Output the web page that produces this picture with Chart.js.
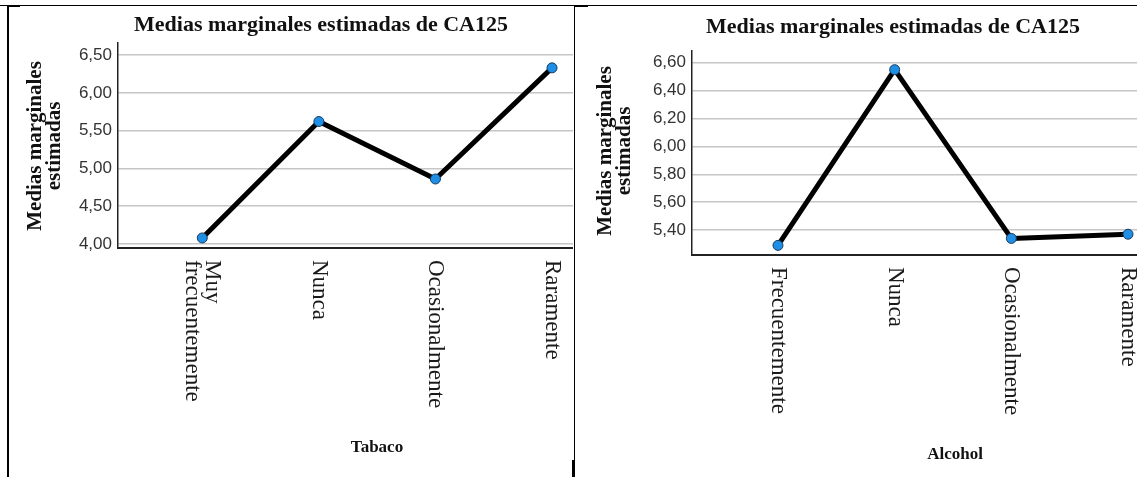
<!DOCTYPE html>
<html>
<head>
<meta charset="utf-8">
<script src="https://cdn.jsdelivr.net/npm/chart.js@4.4.1/dist/chart.umd.min.js"></script>
<style>
  html, body { margin: 0; padding: 0; background: #fff; }
  body { width: 1137px; height: 477px; position: relative; overflow: hidden; }
  .line { position: absolute; background: #000; }
  .box { position: absolute; }
</style>
</head>
<body>
<!-- table cell borders around the two charts -->
<div class="line" style="left:0;top:5px;width:1137px;height:1px;"></div>
<div class="line" style="left:7px;top:5px;width:13px;height:2px;"></div>
<div class="line" style="left:7px;top:5px;width:2px;height:472px;"></div>
<div class="line" style="left:574px;top:5px;width:14px;height:2px;"></div>
<div class="line" style="left:574px;top:5px;width:1px;height:472px;"></div>
<div class="line" style="left:572px;top:460px;width:3px;height:17px;"></div>

<div class="box" style="left:9px;top:7px;width:564px;height:470px;"><canvas id="tabaco"></canvas></div>
<div class="box" style="left:575px;top:7px;width:562px;height:470px;"><canvas id="alcohol"></canvas></div>

<script>
// data
const titleText = 'Medias marginales estimadas de CA125';
const yTitle = ['Medias marginales', 'estimadas'];

const tabacoCats = [['Muy', 'frecuentemente'], 'Nunca', 'Ocasionalmente', 'Raramente'];
const tabacoMeans = [4.08, 5.62, 4.86, 6.33];
const tabacoTicks = [4.0, 4.5, 5.0, 5.5, 6.0, 6.5];

const alcoholCats = ['Frecuentemente', 'Nunca', 'Ocasionalmente', 'Raramente'];
const alcoholMeans = [5.29, 6.55, 5.34, 5.37];
const alcoholTicks = [5.4, 5.6, 5.8, 6.0, 6.2, 6.4, 6.6];

const serif = '"Liberation Serif", "Times New Roman", serif';

// draws title, axis titles and the clockwise rotated category labels
const spssText = {
    id: 'spssText',
    afterDraw(chart, args, opts) {
        const ctx = chart.ctx;
        const xScale = chart.scales.x;
        ctx.save();
        ctx.fillStyle = '#111';

        ctx.font = 'bold 22px ' + serif;
        ctx.textAlign = 'center';
        ctx.textBaseline = 'alphabetic';
        ctx.fillText(titleText, opts.titleX, opts.titleY);

        ctx.save();
        ctx.translate(opts.yTitleX, opts.yTitleY);
        ctx.rotate(-Math.PI / 2);
        ctx.font = 'bold 21px ' + serif;
        ctx.textBaseline = 'middle';
        yTitle.forEach((line, i) => ctx.fillText(line, 0, i * 19));
        ctx.restore();

        ctx.font = '23px ' + serif;
        ctx.fillStyle = '#1a1a1a';
        opts.cats.forEach((c, i) => {
            const lines = Array.isArray(c) ? c : [c];
            const px = xScale.getPixelForValue(i);
            ctx.save();
            ctx.translate(px, opts.labelTop);
            ctx.rotate(Math.PI / 2);
            ctx.textAlign = 'left';
            ctx.textBaseline = 'middle';
            lines.forEach((line, j) => {
                ctx.fillText(line, 0, (j - (lines.length - 1) / 2) * 20);
            });
            ctx.restore();
        });

        ctx.fillStyle = '#111';
        ctx.font = 'bold 17px ' + serif;
        ctx.textAlign = 'center';
        ctx.textBaseline = 'middle';
        ctx.fillText(opts.xTitle, opts.xTitleX, opts.xTitleY);
        ctx.restore();
    }
};

function makeChart(id, cats, means, ticks, cfg) {
    const ctx = document.getElementById(id).getContext('2d');
    return new Chart(ctx, {
        type: 'line',
        data: {
            datasets: [{
                data: cats.map((c, i) => ({ x: i, y: means[i] })),
                borderColor: '#000',
                borderWidth: 5,
                borderJoinStyle: 'round',
                borderCapStyle: 'round',
                pointRadius: 5,
                pointBackgroundColor: '#1f8fe5',
                pointBorderColor: '#173a5e',
                pointBorderWidth: 1,
                tension: 0,
                clip: false,
            }],
        },
        options: {
            responsive: true,
            maintainAspectRatio: false,
            animation: false,
            devicePixelRatio: 1,
            layout: { autoPadding: false, padding: { top: cfg.top, left: 0, right: 0, bottom: 0 } },
            plugins: {
                legend: { display: false },
                tooltip: { enabled: false },
                spssText: cfg.text,
            },
            scales: {
                x: {
                    type: 'linear',
                    min: cfg.xMin,
                    max: cfg.xMax,
                    afterBuildTicks: (scale) => { scale.ticks = cats.map((c, i) => ({ value: i })); },
                    afterFit: (scale) => { scale.height = cfg.xHeight; },
                    ticks: { display: false },
                    grid: { display: false },
                    border: { color: '#222', width: 2 },
                },
                y: {
                    min: cfg.yMin,
                    max: cfg.yMax,
                    afterBuildTicks: (scale) => { scale.ticks = ticks.map(v => ({ value: v })); },
                    afterFit: (scale) => { scale.width = cfg.yWidth; },
                    ticks: {
                        padding: 6,
                        color: '#333',
                        font: { family: '"Liberation Sans Narrow", "Liberation Sans", Arial, sans-serif', size: 17 },
                        callback: (v) => v.toFixed(2).replace('.', ','),
                    },
                    grid: { color: '#c6c6c6', lineWidth: 1.5, drawTicks: false },
                    border: { color: '#222', width: 1.5 },
                },
            },
        },
        plugins: [spssText],
    });
}

makeChart('tabaco', tabacoCats, tabacoMeans, tabacoTicks, {
    top: 36, xHeight: 229, yWidth: 109,
    xMin: -0.723, xMax: 3.18, yMin: 3.947, yMax: 6.659,
    text: {
        cats: tabacoCats, xTitle: 'Tabaco',
        titleX: 312, titleY: 24,
        yTitleX: 27, yTitleY: 139,
        labelTop: 253,
        xTitleX: 368, xTitleY: 441,
    },
});

makeChart('alcohol', alcoholCats, alcoholMeans, alcoholTicks, {
    top: 44, xHeight: 222, yWidth: 117,
    xMin: -0.737, xMax: 3.077, yMin: 5.221, yMax: 6.684,
    text: {
        cats: alcoholCats, xTitle: 'Alcohol',
        titleX: 318, titleY: 26,
        yTitleX: 31, yTitleY: 144,
        labelTop: 260,
        xTitleX: 380, xTitleY: 448,
    },
});
</script>
</body>
</html>
